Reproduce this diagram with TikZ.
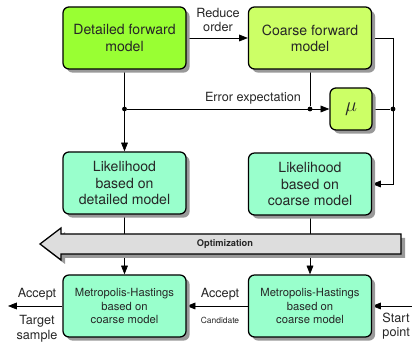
\documentclass[tikz,border=0pt]{standalone}
\usepackage{fontspec}
\setmainfont{TeX Gyre Heros}
\usetikzlibrary{shadows,arrows.meta}
\pgfdeclarelayer{bg}
\pgfsetlayers{bg,main}
\definecolor{detgreen}{RGB}{153,255,51}
\definecolor{coarsegreen}{RGB}{204,255,102}
\definecolor{mint}{RGB}{153,255,204}
\definecolor{optgrey}{RGB}{221,221,221}
\tikzset{
    model/.style={rectangle, rounded corners=1.5mm, draw, line width=0.9pt,
        minimum width=3.075cm, minimum height=1.55cm, align=center,
        font=\fontsize{10}{11.5}\selectfont, text=black!85,
        drop shadow={shadow xshift=0.9mm, shadow yshift=-0.9mm, fill=black!40, opacity=1}},
    mhbox/.style={model, fill=mint, font=\fontsize{8}{9.6}\selectfont},
    link/.style={line width=0.5pt, -{Triangle[length=2.2mm, width=1.7mm]}},
    plain/.style={line width=0.5pt},
    junction/.style={circle, fill, inner sep=0pt, minimum size=1.2mm},
    lbl/.style={font=\fontsize{9}{10}\selectfont, align=center, inner sep=1pt, text=black!85}
}

\begin{document}
\begin{tikzpicture}
    \useasboundingbox (0cm, 0cm) rectangle (10.3cm, 8.55cm);

    \node (det) [model, fill=detgreen] at (3.1125cm, 7.6cm) {Detailed forward\\model};
    \node (coarse) [model, fill=coarsegreen] at (7.75cm, 7.6cm) {Coarse forward\\model};
    \node (mu) [model, fill=coarsegreen, minimum width=1.05cm, minimum height=1.05cm,
        font=\Large] at (8.775cm, 5.825cm) {$\mu$};
    \node (likD) [model, fill=mint, font=\fontsize{10}{12}\selectfont] at (3.1125cm, 3.975cm) {Likelihood\\based on\\detailed model};
    \node (likC) [model, fill=mint, font=\fontsize{10}{12}\selectfont] at (7.75cm, 3.95cm) {Likelihood\\based on\\coarse model};
    \node (mhL) [mhbox] at (3.1125cm, 0.9cm) {Metropolis-Hastings\\based on\\coarse model};
    \node (mhR) [mhbox] at (7.75cm, 0.9cm) {Metropolis-Hastings\\based on\\coarse model};

    \node (jd) [junction] at (3.1125cm, 5.825cm) {};
    \node (jc) [junction] at (7.75cm, 5.825cm) {};
    \node (jm) [junction] at (9.825cm, 5.825cm) {};
    \coordinate (corner) at (9.825cm, 7.6cm);
    \coordinate (target) at (0.2cm, 0.9cm);
    \coordinate (start) at (10.3cm, 0.9cm);

    \node (reduce) [lbl] at (5.45cm, 8.05cm) {Reduce\\order};
    \node (errexp) [lbl] at (6.325cm, 6.1cm) {Error expectation};
    \node (acc) [lbl] at (5.5cm, 1.2cm) {Accept};
    \node (cand) [lbl, font=\fontsize{6}{7}\selectfont] at (5.5cm, 0.55cm) {Candidate};
    \node (accL) [lbl] at (0.925cm, 1.2cm) {Accept};
    \node (tgt) [lbl] at (0.925cm, 0.33cm) {Target\\sample};
    \node (stp) [lbl, align=left, anchor=west] at (9.52cm, 0.4cm) {Start\\point};

    % optimization arrow
    \fill[black!40] (1.1cm, 2.35cm) -- (1.625cm, 2.75cm) -- (1.625cm, 2.6cm) -- (10.125cm, 2.6cm)
        -- (10.125cm, 2.1cm) -- (1.625cm, 2.1cm) -- (1.625cm, 1.95cm) -- cycle;
    \draw[fill=optgrey, line width=0.9pt] (1.0cm, 2.45cm) -- (1.525cm, 2.85cm) -- (1.525cm, 2.7cm)
        -- (10.025cm, 2.7cm) -- (10.025cm, 2.2cm) -- (1.525cm, 2.2cm) -- (1.525cm, 2.05cm) -- cycle;
    \node (opt) [draw=none, font=\fontsize{6.6}{8}\bfseries, text=black!85] at (5.625cm, 2.45cm) {Optimization};

    \begin{pgfonlayer}{bg}
        \draw[link] (det) -- (coarse);
        \draw[link] (det) -- (likD);
        \draw[link] (jd) -- (mu);
        \draw[plain] (coarse) -- (jc);
        \draw[plain] (mu) -- (jm);
        \draw[plain] (coarse) -- (corner);
        \draw[link] (corner) |- (likC);
        \draw[link] (likD) -- (mhL);
        \draw[link] (likC) -- (mhR);
        \draw[link] (mhR) -- (mhL);
        \draw[link] (mhL) -- (target);
        \draw[link] (start) -- (mhR);
    \end{pgfonlayer}
\end{tikzpicture}
\end{document}
